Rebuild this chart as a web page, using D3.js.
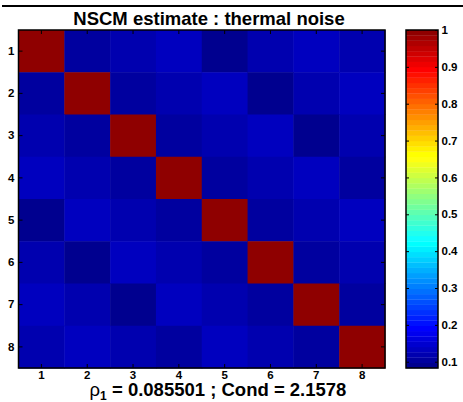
<!DOCTYPE html>
<html>
<head>
<meta charset="utf-8">
<script src="https://cdn.jsdelivr.net/npm/d3@7"></script>
<style>
body { margin:0; background:#fff; }
svg { display:block; font-family:"Liberation Sans", Arial, sans-serif; }
</style>
</head>
<body>
<svg id="chart"></svg>
<script>
var labels = [1, 2, 3, 4, 5, 6, 7, 8];

var corr = [
    [1.000, 0.100, 0.120, 0.135, 0.088, 0.118, 0.132, 0.116],
    [0.100, 1.000, 0.105, 0.125, 0.136, 0.090, 0.120, 0.128],
    [0.120, 0.105, 1.000, 0.102, 0.115, 0.134, 0.089, 0.117],
    [0.135, 0.125, 0.102, 1.000, 0.100, 0.119, 0.133, 0.098],
    [0.088, 0.136, 0.115, 0.100, 1.000, 0.101, 0.118, 0.131],
    [0.118, 0.090, 0.134, 0.119, 0.101, 1.000, 0.103, 0.120],
    [0.132, 0.120, 0.089, 0.133, 0.118, 0.103, 1.000, 0.104],
    [0.116, 0.128, 0.117, 0.098, 0.131, 0.120, 0.104, 1.000]
];

var colorLimits = [0.083, 1];
var colorbarTicks = [0.1, 0.2, 0.3, 0.4, 0.5, 0.6, 0.7, 0.8, 0.9, 1];

var titleText = "NSCM estimate : thermal noise";
var rhoValue = "0.085501";
var condValue = "2.1578";

// matlab style jet(64)
var makeJet = function(m)
{
    var n = Math.round(m / 4);
    var x = d3.range(1, n + 1).map(function(i) {return i / n});
    var y = d3.range(n / 2, n + 1).map(function(i) {return i / n});
    var e = x.map(function() {return 1});
    var z = function(a) {return a.map(function() {return 0})};
    var rev = function(a) {return a.slice().reverse()};
    var r = [].concat(z(y), z(e), x, e, rev(y));
    var g = [].concat(z(y), x, e, rev(x), z(y));
    var b = [].concat(y, e, rev(x), z(e), z(y));
    var J = r.map(function(v, i) {return [v, g[i], b[i]]});
    while (J.length > m)
    {
        J.shift();
        if (J.length > m) J.pop();
    }
    return J.map(function(c)
    {
        return d3.rgb(c[0] * 255, c[1] * 255, c[2] * 255).toString();
    });
}

var jet = makeJet(64);

var colorFor = function(v)
{
    var t = (v - colorLimits[0]) / (colorLimits[1] - colorLimits[0]);
    var idx = Math.floor(t * jet.length);
    idx = Math.max(0, Math.min(jet.length - 1, idx));
    return jet[idx];
}

var screen = {width: 463, height: 402};
var plot = {left: 18.5, top: 30, right: 385, bottom: 368};
var bar = {left: 406, right: 438};

var svg = d3.select("#chart")
    .attr("width", screen.width)
    .attr("height", screen.height);

svg.append("rect")
    .attr("x", 2)
    .attr("y", 5)
    .attr("width", screen.width - 2)
    .attr("height", 2)
    .attr("fill", "black");

var xScale = d3.scaleBand()
    .domain(labels)
    .range([plot.left, plot.right]);

var yScale = d3.scaleBand()
    .domain(labels)
    .range([plot.top, plot.bottom]);

var cells = [];
corr.forEach(function(row, i)
{
    row.forEach(function(v, j)
    {
        cells.push({row: labels[i], col: labels[j], value: v});
    });
});

svg.append("g")
    .selectAll("rect")
    .data(cells)
    .enter()
    .append("rect")
    .attr("x", function(d) {return xScale(d.col)})
    .attr("y", function(d) {return yScale(d.row)})
    .attr("width", xScale.bandwidth() + 0.5)
    .attr("height", yScale.bandwidth() + 0.5)
    .attr("fill", function(d) {return colorFor(d.value)});

var styleAxis = function(g)
{
    g.select(".domain").remove();
    g.selectAll("line").attr("stroke", "black").attr("stroke-width", 1);
    g.selectAll("text")
        .attr("font-size", "11.5px")
        .attr("font-weight", "bold")
        .attr("fill", "black");
}

svg.append("g")
    .attr("transform", "translate(0," + plot.bottom + ")")
    .call(d3.axisBottom(xScale).tickSize(-4).tickPadding(3))
    .call(styleAxis);

svg.append("g")
    .attr("transform", "translate(0," + plot.top + ")")
    .call(d3.axisTop(xScale).tickSize(-4).tickFormat(""))
    .call(styleAxis);

svg.append("g")
    .attr("transform", "translate(" + plot.left + ",0)")
    .call(d3.axisLeft(yScale).tickSize(-4).tickPadding(4))
    .call(styleAxis);

svg.append("g")
    .attr("transform", "translate(" + plot.right + ",0)")
    .call(d3.axisRight(yScale).tickSize(-4).tickFormat(""))
    .call(styleAxis);

svg.append("rect")
    .attr("x", plot.left)
    .attr("y", plot.top)
    .attr("width", plot.right - plot.left)
    .attr("height", plot.bottom - plot.top)
    .attr("fill", "none")
    .attr("stroke", "black")
    .attr("stroke-width", 1.5);

// colorbar
var cScale = d3.scaleLinear()
    .domain(colorLimits)
    .range([plot.bottom, plot.top]);

var step = (colorLimits[1] - colorLimits[0]) / jet.length;

svg.append("g")
    .selectAll("rect")
    .data(jet)
    .enter()
    .append("rect")
    .attr("x", bar.left)
    .attr("width", bar.right - bar.left)
    .attr("y", function(c, i) {return cScale(colorLimits[0] + (i + 1) * step)})
    .attr("height", function(c, i)
    {
        return cScale(colorLimits[0] + i * step) - cScale(colorLimits[0] + (i + 1) * step) + 0.3;
    })
    .attr("fill", function(c) {return c});

svg.append("g")
    .attr("transform", "translate(" + bar.right + ",0)")
    .call(d3.axisRight(cScale).tickValues(colorbarTicks).tickSize(-3).tickPadding(3.5)
        .tickFormat(function(d) {return d3.format("")(+d.toFixed(1))}))
    .call(styleAxis);

svg.append("g")
    .attr("transform", "translate(" + bar.left + ",0)")
    .call(d3.axisLeft(cScale).tickValues(colorbarTicks).tickSize(-3).tickFormat(""))
    .call(styleAxis);

svg.append("rect")
    .attr("x", bar.left)
    .attr("y", plot.top)
    .attr("width", bar.right - bar.left)
    .attr("height", plot.bottom - plot.top)
    .attr("fill", "none")
    .attr("stroke", "black")
    .attr("stroke-width", 1.5);

svg.append("text")
    .attr("x", 209)
    .attr("y", 25)
    .attr("text-anchor", "middle")
    .attr("font-size", "18.5px")
    .attr("font-weight", "bold")
    .text(titleText);

var xlabel = svg.append("text")
    .attr("x", 218)
    .attr("y", 396)
    .attr("text-anchor", "middle")
    .attr("font-size", "18.5px")
    .attr("font-weight", "bold");

xlabel.append("tspan")
    .attr("font-weight", "normal")
    .text("\u03c1");
xlabel.append("tspan")
    .attr("font-size", "12px")
    .attr("dy", 4)
    .text("1");
xlabel.append("tspan")
    .attr("dy", -4)
    .text(" = " + rhoValue + " ; Cond = " + condValue);
</script>
</body>
</html>
